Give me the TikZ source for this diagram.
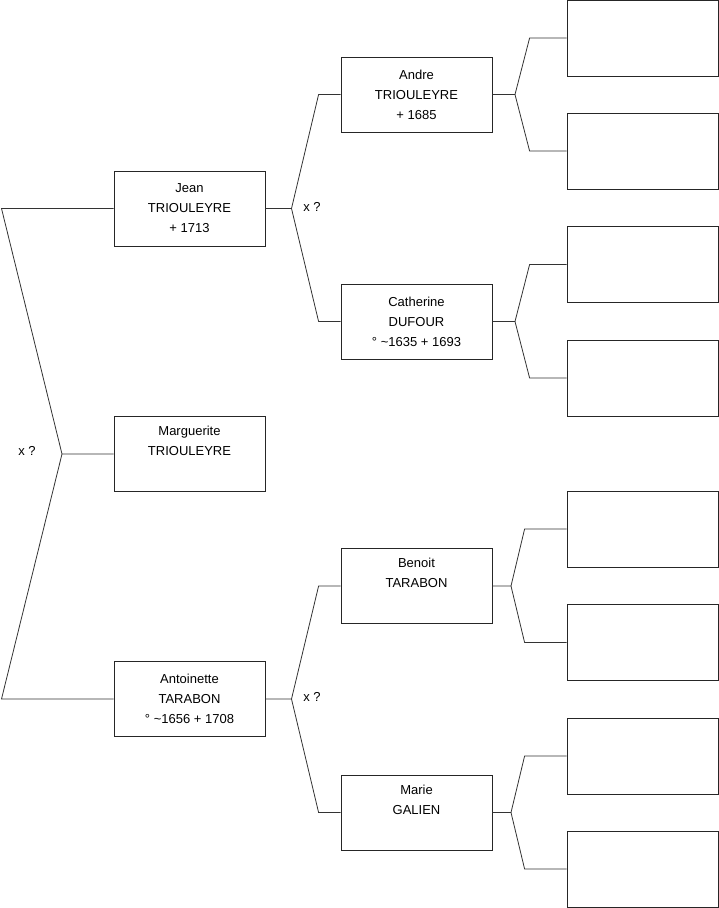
\documentclass[tikz,border=0pt]{standalone}
\usepackage{fontspec}
\setmainfont{Liberation Sans}
\usepackage{tikz}
\usetikzlibrary{positioning}

\begin{document}
\begin{tikzpicture}[
    x = 1pt, y = -1pt,
    person/.style = {rectangle, draw=black!85,
                     line width=0.8pt,
                     minimum width=151pt,
                     minimum height=75pt,
                     align=center, inner sep=0pt,
                     font=\fontsize{13}{20}\selectfont},
    blank/.style  = {person, minimum height=76pt},
    link/.style   = {draw=black!80, line width=0.8pt},
    unionmark/.style = {font=\fontsize{13}{20}\selectfont,
                        inner sep=0pt}
]
\useasboundingbox (0,0) rectangle (719,908);

%% Child
\node[person] (marg) at (189.5,454)
    {Marguerite\\TRIOULEYRE\\\strut};

%% Parents
\node[person] (jean) at (189.5,208.5)
    {Jean\\TRIOULEYRE\\+ 1713};
\node[person] (antoi) at (189.5,699)
    {Antoinette\\TARABON\\° \textasciitilde1656 + 1708};

%% Grandparents
\node[person] (andre) at (416.5,94.5)
    {Andre\\TRIOULEYRE\\+ 1685};
\node[person] (cath) at (416.5,321.5)
    {Catherine\\DUFOUR\\° \textasciitilde1635 + 1693};
\node[person] (benoit) at (416.5,586)
    {Benoit\\TARABON\\\strut};
\node[person] (marie) at (416.5,812.5)
    {Marie\\GALIEN\\\strut};

%% Great-grandparents (unknown)
\node[blank] (g1) at (642.5,38)    {};
\node[blank] (g2) at (642.5,151)   {};
\node[blank] (g3) at (642.5,264.5) {};
\node[blank] (g4) at (642.5,378)   {};
\node[blank] (g5) at (642.5,529)   {};
\node[blank] (g6) at (642.5,642.5) {};
\node[blank] (g7) at (642.5,756)   {};
\node[blank] (g8) at (642.5,869)   {};

%% Fork points
\coordinate (fM) at (62,454);
\coordinate (fJ) at (291.5,208.5);
\coordinate (fA) at (291.5,699);
\coordinate (fAn) at (515,94.5);
\coordinate (fC) at (515,321.5);
\coordinate (fB) at (511,586);
\coordinate (fMa) at (511,812.5);

%% Links
\draw[link] (marg.west) -- (fM) -- (1.5,208.5) -- (jean.west);
\draw[link] (fM) -- (1.5,699) -- (antoi.west);

\draw[link] (jean.east) -- (fJ) -- ([xshift=-22pt]andre.west)
            -- (andre.west);
\draw[link] (fJ) -- ([xshift=-22pt]cath.west) -- (cath.west);

\draw[link] (antoi.east) -- (fA) -- ([xshift=-22pt]benoit.west)
            -- (benoit.west);
\draw[link] (fA) -- ([xshift=-22pt]marie.west) -- (marie.west);

\draw[link] (andre.east) -- (fAn) -- ([xshift=-37pt]g1.west)
            -- (g1.west);
\draw[link] (fAn) -- ([xshift=-37pt]g2.west) -- (g2.west);

\draw[link] (cath.east) -- (fC) -- ([xshift=-37pt]g3.west)
            -- (g3.west);
\draw[link] (fC) -- ([xshift=-37pt]g4.west) -- (g4.west);

\draw[link] (benoit.east) -- (fB) -- ([xshift=-42pt]g5.west)
            -- (g5.west);
\draw[link] (fB) -- ([xshift=-42pt]g6.west) -- (g6.west);

\draw[link] (marie.east) -- (fMa) -- ([xshift=-42pt]g7.west)
            -- (g7.west);
\draw[link] (fMa) -- ([xshift=-42pt]g8.west) -- (g8.west);

%% Union marks
\node[unionmark] (x0) at (27,451)  {x ?};
\node[unionmark] (x1) at (312,207) {x ?};
\node[unionmark] (x2) at (312,697) {x ?};
\end{tikzpicture}
\end{document}
